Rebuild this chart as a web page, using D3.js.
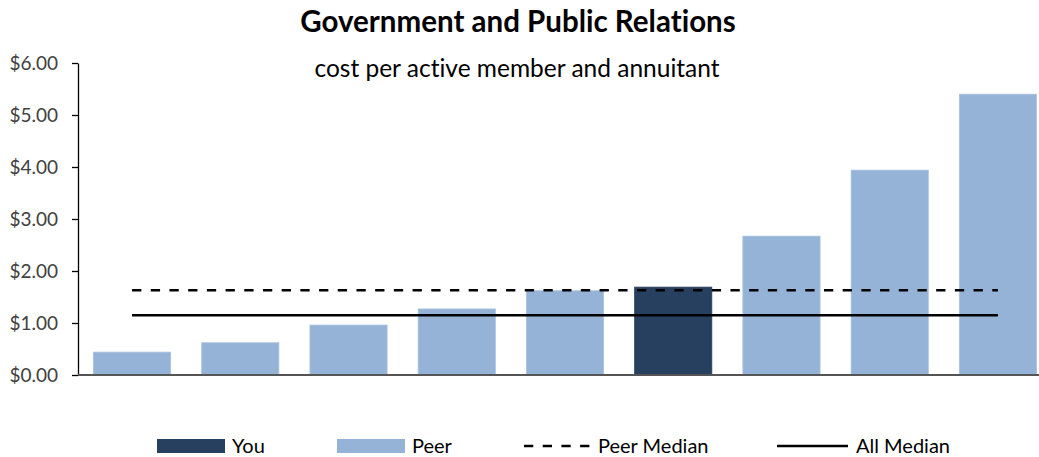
<!DOCTYPE html>
<html>
<head>
<meta charset="utf-8">
<script src="https://cdn.jsdelivr.net/npm/d3@7"></script>
<style>
  html, body { margin: 0; padding: 0; background: #fff; }
  svg { display: block; font-family: Lato, "Open Sans", sans-serif; }
  svg text { font-variant-ligatures: none; font-feature-settings: "liga" 0, "clig" 0, "dlig" 0, "calt" 0; }
</style>
</head>
<body>
<svg id="chart" width="1039" height="457"></svg>
<script>
// Cost per member, sorted ascending; "You" is highlighted.
const categories = ["P1", "P2", "P3", "P4", "P5", "You", "P6", "P7", "P8"];
const groups     = ["Peer", "Peer", "Peer", "Peer", "Peer", "You", "Peer", "Peer", "Peer"];
const costs      = [0.44, 0.62, 0.96, 1.27, 1.62, 1.69, 2.67, 3.94, 5.40];
const peerMedian = 1.63;
const allMedian  = 1.15;
const yTicks     = [0, 1, 2, 3, 4, 5, 6];

const colors = { You: "#27405f", Peer: "#95b3d7" };
const edges  = { You: "#27405f", Peer: "#a9c1de" };

const svg = d3.select("#chart");

const x = d3.scaleBand().domain(categories).range([78, 1052]).paddingInner(0.287).paddingOuter(0.143);
const y = d3.scaleLinear().domain([0, 6]).range([375, 63]);

// Title and subtitle
svg.append("text").attr("x", 518).attr("y", 32).attr("text-anchor", "middle")
  .attr("font-size", 29.5).attr("font-weight", 700).attr("fill", "#000")
  .text("Government and Public Relations");
svg.append("text").attr("x", 517).attr("y", 77).attr("text-anchor", "middle")
  .attr("font-size", 24.5).attr("fill", "#000")
  .text("cost per active member and annuitant");

// Bars
svg.append("g").selectAll("rect").data(costs).join("rect")
  .attr("x", (d, i) => x(categories[i]))
  .attr("y", d => y(d))
  .attr("width", x.bandwidth())
  .attr("height", d => y(0) - y(d))
  .attr("fill", (d, i) => colors[groups[i]])
  .attr("stroke", (d, i) => edges[groups[i]])
  .attr("stroke-width", 0.8);

// Y axis
const yAxis = svg.append("g").attr("transform", "translate(78,0)")
  .call(d3.axisLeft(y).tickValues(yTicks).tickSize(6).tickSizeOuter(0)
    .tickFormat(d => "$" + d3.format(".2f")(d)));
yAxis.select(".domain").attr("stroke", "#000").attr("stroke-width", 1.3);
yAxis.selectAll(".tick line").attr("stroke", "#000").attr("stroke-width", 1.3);
yAxis.selectAll(".tick text").attr("x", -20).attr("font-size", 19)
  .attr("font-family", "Lato, 'Open Sans', sans-serif").attr("fill", "#404040");

// Baseline
svg.append("line").attr("x1", 78).attr("x2", 1039).attr("y1", y(0)).attr("y2", y(0))
  .attr("stroke", "#555").attr("stroke-width", 2);

// Median lines across category centres
const xFirst = x(categories[0]) + x.bandwidth() / 2;
const xLast = x(categories[categories.length - 1]) + x.bandwidth() / 2;
svg.append("line").attr("x1", xFirst).attr("x2", xLast)
  .attr("y1", y(peerMedian)).attr("y2", y(peerMedian))
  .attr("stroke", "#000").attr("stroke-width", 2.6).attr("stroke-dasharray", "9.3,9.4");
svg.append("line").attr("x1", xFirst).attr("x2", xLast)
  .attr("y1", y(allMedian)).attr("y2", y(allMedian))
  .attr("stroke", "#000").attr("stroke-width", 2.6);

// Legend
const legend = svg.append("g").attr("font-size", 20).attr("fill", "#000");
legend.append("rect").attr("x", 157).attr("y", 439).attr("width", 68).attr("height", 14).attr("fill", colors.You);
legend.append("text").attr("x", 232).attr("y", 453).text("You");
legend.append("rect").attr("x", 337).attr("y", 439).attr("width", 68).attr("height", 14).attr("fill", colors.Peer);
legend.append("text").attr("x", 412).attr("y", 453).text("Peer");
legend.append("line").attr("x1", 524).attr("x2", 590).attr("y1", 446).attr("y2", 446)
  .attr("stroke", "#000").attr("stroke-width", 2.6).attr("stroke-dasharray", "9.3,9.4");
legend.append("text").attr("x", 598).attr("y", 453).text("Peer Median");
legend.append("line").attr("x1", 777).attr("x2", 848).attr("y1", 446).attr("y2", 446)
  .attr("stroke", "#000").attr("stroke-width", 2.6);
legend.append("text").attr("x", 856).attr("y", 453).text("All Median");
</script>
</body>
</html>
